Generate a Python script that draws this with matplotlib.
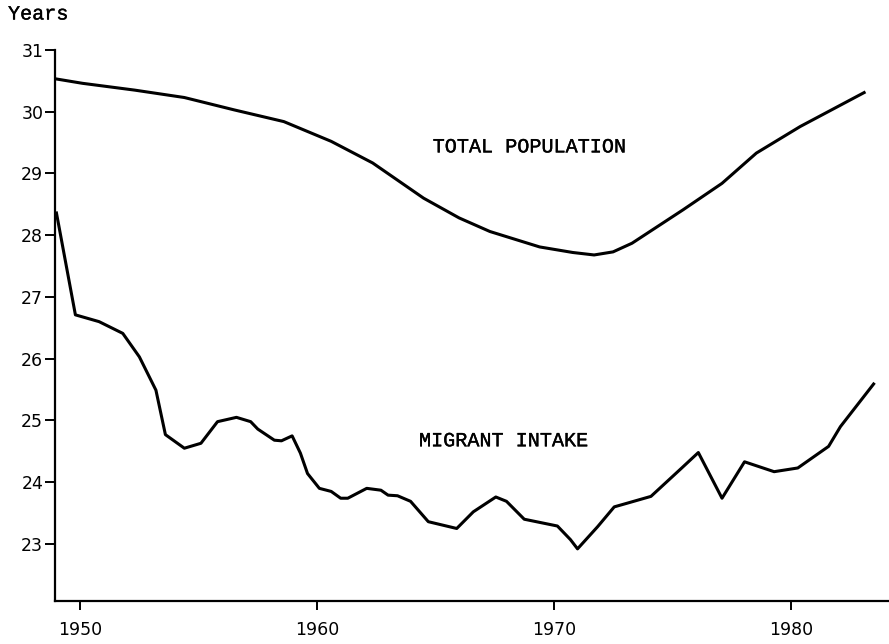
import matplotlib.pyplot as plt
import matplotlib.patheffects as pe

# Median age, years
total_years = [1949.0, 1950.1, 1952.3, 1954.4, 1956.5, 1958.6, 1960.6, 1962.35,
               1964.5, 1966.0, 1967.3, 1969.4, 1970.8, 1971.7, 1972.5, 1973.3,
               1975.45, 1977.1, 1978.55, 1980.4, 1983.1]
total_age = [30.53, 30.46, 30.35, 30.23, 30.03, 29.84, 29.52, 29.17,
             28.60, 28.28, 28.06, 27.81, 27.72, 27.68, 27.73, 27.87,
             28.41, 28.84, 29.33, 29.76, 30.31]

migrant_years = [1949.0, 1949.8, 1950.8, 1951.8, 1952.5, 1953.2, 1953.6, 1954.4,
                 1955.1, 1955.8, 1956.6, 1957.2, 1957.5, 1958.2, 1958.5, 1958.95,
                 1959.3, 1959.6, 1960.1, 1960.6, 1961.0, 1961.3, 1962.1, 1962.7,
                 1963.0, 1963.4, 1963.95, 1964.7, 1965.9, 1966.6, 1967.55, 1968.0,
                 1968.75, 1970.15, 1970.7, 1971.0, 1971.85, 1972.55, 1973.1, 1974.1,
                 1975.4, 1976.1, 1977.1, 1978.05, 1979.3, 1980.3, 1981.6, 1982.1,
                 1983.5]
migrant_age = [28.36, 26.71, 26.60, 26.41, 26.03, 25.49, 24.77, 24.55,
               24.63, 24.98, 25.05, 24.98, 24.86, 24.68, 24.67, 24.75,
               24.47, 24.14, 23.90, 23.85, 23.74, 23.74, 23.90, 23.87,
               23.79, 23.78, 23.69, 23.36, 23.25, 23.52, 23.76, 23.69,
               23.40, 23.29, 23.07, 22.92, 23.28, 23.60, 23.66, 23.77,
               24.23, 24.48, 23.74, 24.33, 24.17, 24.23, 24.58, 24.90,
               25.59]

yticks = list(range(23, 32))
xticks = [1950, 1960, 1970, 1980]

fig = plt.figure(figsize=(8.89, 6.44), dpi=100)
ax = fig.add_axes([0.0619, 0.0672, 0.9381, 0.8552])

ax.plot(total_years, total_age, color='black', linewidth=2.2, solid_joinstyle='round')
ax.plot(migrant_years, migrant_age, color='black', linewidth=2.2, solid_joinstyle='round')

ax.set_xlim(1948.94, 1984.15)
ax.set_ylim(22.08, 31)
ax.set_xticks(xticks)
ax.set_yticks(yticks)

for side in ['top', 'right']:
    ax.spines[side].set_visible(False)
for side in ['left', 'bottom']:
    ax.spines[side].set_linewidth(1.6)

ax.tick_params(axis='y', direction='out', length=7, width=1.4, pad=1.5, labelsize=12.5)
ax.tick_params(axis='x', direction='out', length=6.5, width=1.4, pad=8, labelsize=12.5)

# typewriter look: regular mono, very slightly darkened
mono = 'Liberation Mono'
ink = [pe.withStroke(linewidth=0.25, foreground='black')]
fig.text(8 / 889, 1 - 14 / 644, 'Years', family=mono, fontsize=14.5,
         ha='left', va='center', path_effects=ink)
ax.text(1968.98, 29.43, 'TOTAL POPULATION', family=mono, fontsize=14.5,
        ha='center', va='center', path_effects=ink)
ax.text(1967.89, 24.67, 'MIGRANT INTAKE', family=mono, fontsize=14.5,
        ha='center', va='center', path_effects=ink)

plt.savefig('out.png', dpi=100)
